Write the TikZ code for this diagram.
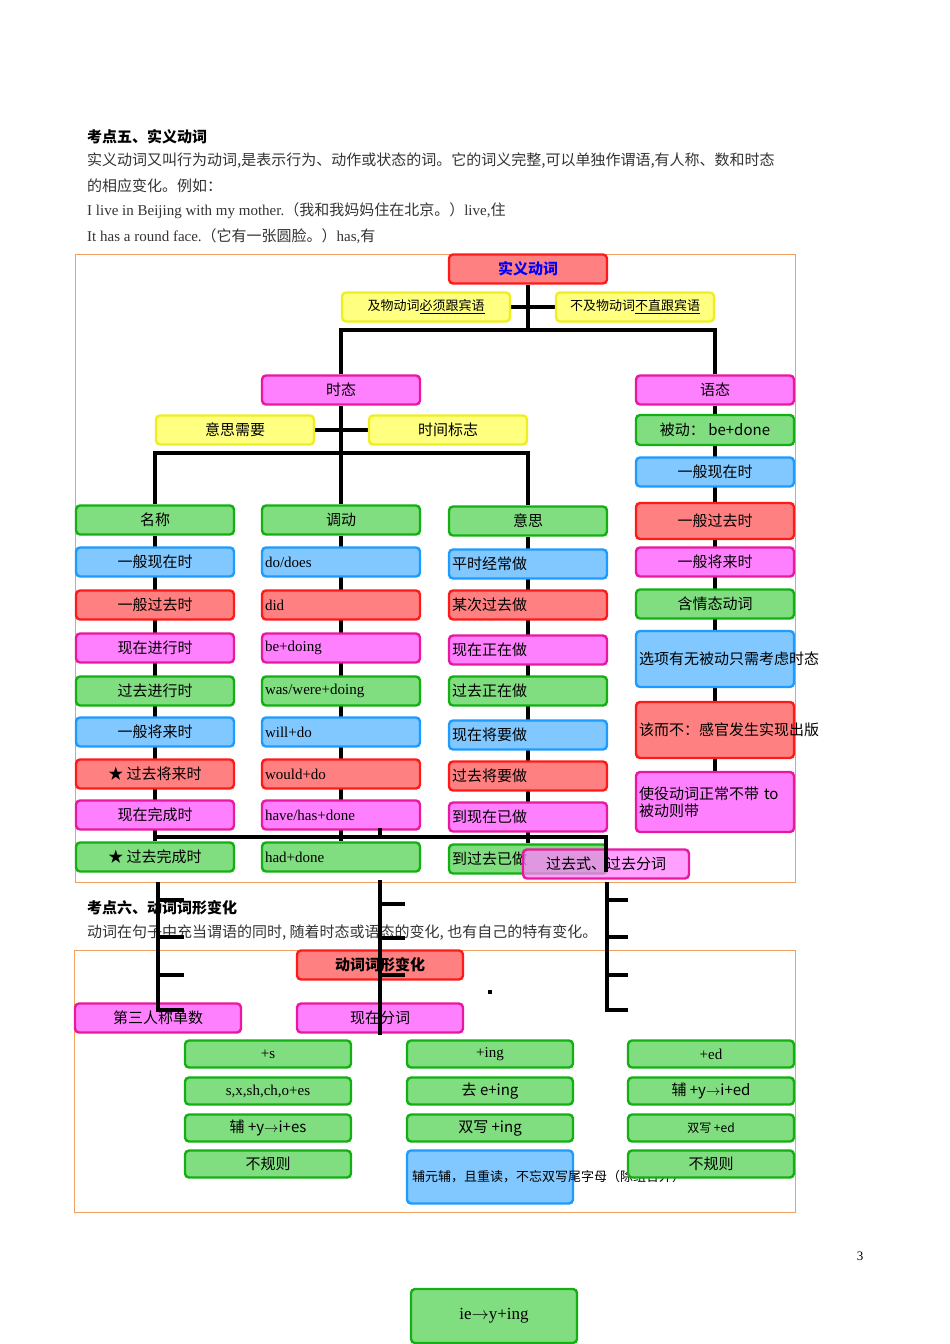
\documentclass[tikz,border=0pt]{standalone}
\usepackage{fontspec}
\setmainfont{Liberation Serif}
\newfontfamily\cjk{Noto Sans CJK SC}
\usetikzlibrary{backgrounds}
\definecolor{rd}{HTML}{FF8080}
\definecolor{rdl}{HTML}{FF1A1A}
\definecolor{mg}{HTML}{FF80FF}
\definecolor{mgl}{HTML}{E8199E}
\definecolor{gn}{HTML}{80DD80}
\definecolor{gnl}{HTML}{12B012}
\definecolor{bl}{HTML}{80C8FF}
\definecolor{bll}{HTML}{1E9BFF}
\definecolor{yl}{HTML}{FFFF80}
\definecolor{yll}{HTML}{EEEE22}
\definecolor{frm}{HTML}{F0A060}
\tikzset{
  bx/.style={rounded corners=4pt, line width=2.4pt, minimum width=158, minimum height=29, inner sep=2pt, font=\fontsize{15}{17}\selectfont\cjk},
  rdb/.style={bx, fill=rd, draw=rdl},
  mgb/.style={bx, fill=mg, draw=mgl},
  gnb/.style={bx, fill=gn, draw=gnl},
  blb/.style={bx, fill=bl, draw=bll},
  ylb/.style={bx, fill=yl, draw=yll},
  lft/.style={text width=152, align=left},
  en/.style={font=\fontsize{15}{17}\selectfont},
  tree/.style={line width=4pt, black},
  para/.style={anchor=west, inner sep=0, text=black!80, font=\fontsize{15}{18}\selectfont\cjk}
}
\begin{document}
\begin{tikzpicture}[x=1pt, y=-1pt]
\useasboundingbox (0,0) rectangle (950,1344);
% heading and text
\node[para, font=\fontsize{15}{18}\selectfont\cjk\bfseries, text=black] (h1) at (87,137) {考点五、实义动词};
\node[para] (p1) at (87,161) {实义动词又叫行为动词,是表示行为、动作或状态的词。它的词义完整,可以单独作谓语,有人称、数和时态};
\node[para] (p2) at (87,186) {的相应变化。例如：};
\node[para, font=\fontsize{15}{18}\selectfont] (p3) at (87,211) {I live in Beijing with my mother.{\cjk（我和我妈妈住在北京。）}live,{\cjk 住}};
\node[para, font=\fontsize{15}{18}\selectfont] (p4) at (87,236) {It has a round face.{\cjk（它有一张圆脸。）}has,{\cjk 有}};
\draw[frm, line width=0.8pt] (75,254) rectangle (795,882);

% top of tree
\node[rdb, text=blue, font=\fontsize{15}{17}\selectfont\cjk\bfseries] (top) at (528,269) {实义动词};
\node[ylb, minimum width=168, font=\fontsize{13}{15}\selectfont\cjk] (jiwu) at (426,307) {及物动词\underline{必须跟宾语}};
\node[ylb, font=\fontsize{13}{15}\selectfont\cjk] (bujiwu) at (635,307) {不及物动词\underline{不直跟宾语}};
\node[mgb] (shitai) at (341,390) {时态};
\node[mgb] (yutai) at (715,390) {语态};
\node[ylb] (xuyao) at (235,430) {意思需要};
\node[ylb] (biaozhi) at (448,430) {时间标志};

% column 1
\node[gnb] (a1) at (155,520) {名称};
\node[blb] (a2) at (155,562) {一般现在时};
\node[rdb] (a3) at (155,605) {一般过去时};
\node[mgb] (a4) at (155,648) {现在进行时};
\node[gnb] (a5) at (155,691) {过去进行时};
\node[blb] (a6) at (155,732) {一般将来时};
\node[rdb] (a7) at (155,774) {★ 过去将来时};
\node[mgb] (a8) at (155,815) {现在完成时};
\node[gnb] (a9) at (155,857) {★ 过去完成时};
% column 2
\node[gnb] (b1) at (341,520) {调动};
\node[blb, lft, en] (b2) at (341,562) {do/does};
\node[rdb, lft, en] (b3) at (341,605) {did};
\node[mgb, lft, en] (b4) at (341,648) {be+doing};
\node[gnb, lft, en] (b5) at (341,691) {was/were+doing};
\node[blb, lft, en] (b6) at (341,732) {will+do};
\node[rdb, lft, en] (b7) at (341,774) {would+do};
\node[mgb, lft, en] (b8) at (341,815) {have/has+done};
\node[gnb, lft, en] (b9) at (341,857) {had+done};
% column 3
\node[gnb] (c1) at (528,521) {意思};
\node[blb, lft] (c2) at (528,564) {平时经常做};
\node[rdb, lft] (c3) at (528,605) {某次过去做};
\node[mgb, lft] (c4) at (528,650) {现在正在做};
\node[gnb, lft] (c5) at (528,691) {过去正在做};
\node[blb, lft] (c6) at (528,735) {现在将要做};
\node[rdb, lft] (c7) at (528,776) {过去将要做};
\node[mgb, lft] (c8) at (528,817) {到现在已做};
\node[gnb, lft] (c9) at (528,859) {到过去已做};
% column 4
\node[gnb, minimum height=30] (d1) at (715,430) {被动：\ be+done};
\node[blb] (d2) at (715,472) {一般现在时};
\node[rdb, minimum height=36] (d3) at (715,521) {一般过去时};
\node[mgb] (d4) at (715,562) {一般将来时};
\node[gnb] (d5) at (715,604) {含情态动词};
\node[blb, lft, minimum height=56] (d6) at (715,659) {选项有无被动只需考虑时态};
\node[rdb, lft, minimum height=56] (d7) at (715,730) {该而不：感官发生实现出版};
\node[mgb, lft, minimum height=60] (d8) at (715,802) {使役动词正常不带 to 被动则带};

\node[mgb, fill opacity=0.75, text opacity=1, minimum width=166] (guoqu) at (606,864) {过去式、过去分词};

\begin{scope}[on background layer]
\coordinate (j1) at (528,330);
\coordinate (j2) at (341,453);
\draw[tree] (top) -- (j1);
\draw[tree] (j1) -| (shitai);
\draw[tree] (j1) -| (yutai);
\draw[tree] (jiwu) -- (bujiwu);
\draw[tree] (shitai) -- (j2);
\draw[tree] (xuyao) -- (biaozhi);
\draw[tree] (j2) -| (a1);
\draw[tree] (j2) -| (c1);
\draw[tree] (j2) -- (b1);
\draw[tree] (a1) -- (a9);
\draw[tree] (b1) -- (b9);
\draw[tree] (c1) -- (c9);
\draw[tree] (yutai) -- (d8);
\end{scope}

% second section
\node[para, font=\fontsize{15}{18}\selectfont\cjk\bfseries, text=black] (h2) at (87,908) {考点六、动词词形变化};
\node[para] (p5) at (87,933) {动词在句子中充当谓语的同时, 随着时态或语态的变化, 也有自己的特有变化。};
\draw[frm, line width=0.8pt] (74,950) rectangle (795,1212);
\node[rdb, minimum width=166, font=\fontsize{15}{17}\selectfont\cjk\bfseries] (cixing) at (380,965) {动词词形变化};
\node[mgb, minimum width=166] (disan) at (158,1018) {第三人称单数};
\node[mgb, minimum width=166] (xianzai) at (380,1018) {现在分词};
\node[gnb, minimum width=166, minimum height=27, en] (e1) at (268,1054) {+s};
\node[gnb, minimum width=166, minimum height=27, en] (e2) at (268,1091) {s,x,sh,ch,o+es};
\node[gnb, minimum width=166, minimum height=27] (e3) at (268,1128) {辅 +y$\rightarrow$i+es};
\node[gnb, minimum width=166, minimum height=27] (e4) at (268,1164) {不规则};
\node[gnb, minimum width=166, minimum height=27, en] (f1) at (490,1054) {+ing};
\node[gnb, minimum width=166, minimum height=27] (f2) at (490,1091) {去 e+ing};
\node[gnb, minimum width=166, minimum height=27] (f3) at (490,1128) {双写 +ing};
\node[blb, minimum width=166, minimum height=53, text width=156, align=center, font=\fontsize{13}{17}\selectfont\cjk] (f4) at (490,1177) {辅元辅，且重读，不忘双写尾字母（除组合外）};
\node[gnb, minimum width=166, minimum height=27, en] (g1) at (711,1054) {+ed};
\node[gnb, minimum width=166, minimum height=27] (g2) at (711,1091) {辅 +y$\rightarrow$i+ed};
\node[gnb, minimum width=166, minimum height=27, font=\fontsize{12}{14}\selectfont\cjk] (g3) at (711,1128) {双写 +ed};
\node[gnb, minimum width=166, minimum height=27] (g4) at (711,1164) {不规则};
\node[inner sep=0, font=\fontsize{13}{15}\selectfont] (pg) at (860,1256) {3};
\node[gnb, minimum width=166, minimum height=54, en, font=\fontsize{17}{19}\selectfont] (ie) at (494,1316) {ie$\rightarrow$y+ing};

% stray brackets
\coordinate (s1) at (155,837);
\coordinate (s2) at (606,837);
\coordinate (s3) at (380,828);
\coordinate (s4) at (606,872);
\draw[tree] (s1) -- (s2) -- (s4);
\draw[tree] (s3) -- (380,837);
\draw[tree] (158,882) -- (158,1010) -- (184,1010);
\foreach \y in {900,937,975} \draw[tree] (158,\y) -- (184,\y);
\draw[tree] (380,880) -- (380,1035);
\foreach \y in {904,938,975} \draw[tree] (380,\y) -- (405,\y);
\draw[tree] (607,882) -- (607,1010) -- (628,1010);
\foreach \y in {900,937,975} \draw[tree] (607,\y) -- (628,\y);
\fill (488,990) rectangle (492,994);
\end{tikzpicture}
\end{document}
